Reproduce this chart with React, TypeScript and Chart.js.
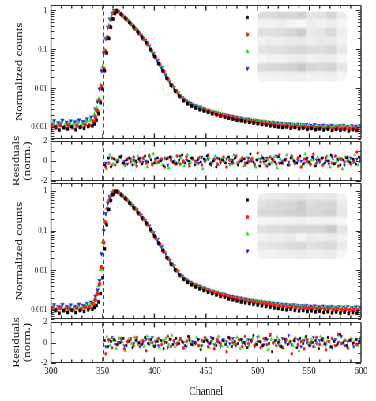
import React, { useEffect, useRef } from 'react';
import { Chart, registerables } from 'chart.js';
import { drawPoint } from 'chart.js/helpers';

Chart.register(...registerables);

// ---------------- data ----------------
const seriesNames = ['Series 1', 'Series 2', 'Series 3', 'Series 4'];
const seriesColors = ['#000000', '#ff1a1a', '#1ee61e', '#1a2cff'];
const seriesStyles = ['rect', 'circle', 'triangle', 'triangle'];
const seriesRotations = [0, 0, 0, 180];
const seriesOffsets = [0, 1, 2, 3];
const residOffsets = [0, 1, 2, 1];
const markerChannel = 351;

const xMajorTicks = [300, 350, 400, 450, 500, 550, 600];
const countTickValues = [0.001, 0.01, 0.1, 1];
const residTickValues = [-2, 0, 2];
const residMinorTicks = [-1, 1];

const countChannels = [
  300, 304, 308, 312, 316, 320, 324, 328, 332, 336, 340,
  342, 344, 346, 348, 350, 352, 354, 356, 358, 360, 362, 364,
  368, 372, 376, 380, 384, 388, 392, 396, 400, 404, 408, 412, 416, 420, 424, 428, 432, 436,
  440, 444, 448, 452, 456, 460, 464, 468, 472, 476, 480, 484, 488, 492, 496, 500, 504, 508,
  512, 516, 520, 524, 528, 532, 536, 540, 544, 548, 552, 556, 560, 564, 568, 572, 576, 580,
  584, 588, 592, 596,
];
const residFirstChannel = 352;
const residStep = 3;

// top panel
const p1Black = [
  0.00088, 0.00101, 0.00084, 0.00097, 0.0009, 0.00103, 0.00086, 0.00099, 0.00093, 0.00104, 0.00108,
  0.0012, 0.0015, 0.0022, 0.0042, 0.0095, 0.028, 0.08, 0.19, 0.37, 0.6, 0.84, 0.97,
  0.8, 0.63, 0.49, 0.375, 0.28, 0.205, 0.15, 0.1, 0.066, 0.043, 0.028, 0.018, 0.012, 0.0085, 0.0062, 0.0048,
  0.004, 0.0035, 0.0031, 0.0028, 0.0026, 0.0024, 0.0022, 0.0021, 0.0019, 0.0018, 0.0017, 0.0016, 0.0015,
  0.00145, 0.00138, 0.00132, 0.00127, 0.00122, 0.00117, 0.00113, 0.00108, 0.00105, 0.00101, 0.00098, 0.001,
  0.00094, 0.00097, 0.00091, 0.00094, 0.00088, 0.00092, 0.00086, 0.0009, 0.00084, 0.00088, 0.00082, 0.00087,
  0.00083, 0.00086, 0.0008, 0.00085, 0.00082,
];
const p1Red = [
  0.00109, 0.00096, 0.00112, 0.00098, 0.00111, 0.00097, 0.00108, 0.00102, 0.00115, 0.00112, 0.0014,
  0.0018, 0.0026, 0.0048, 0.011, 0.032, 0.087, 0.2, 0.38, 0.61, 0.85, 0.98, 0.94,
  0.74, 0.59, 0.45, 0.345, 0.26, 0.19, 0.14, 0.095, 0.063, 0.042, 0.027, 0.0175, 0.0118, 0.0084, 0.0062, 0.0049,
  0.0041, 0.0036, 0.0032, 0.0029, 0.0027, 0.0025, 0.0023, 0.0021, 0.002, 0.0019, 0.0018, 0.0017, 0.0016,
  0.00153, 0.00146, 0.0014, 0.00134, 0.00129, 0.00124, 0.0012, 0.00116, 0.00112, 0.0011, 0.00106, 0.00108,
  0.00102, 0.00104, 0.00099, 0.00101, 0.00096, 0.00099, 0.00094, 0.00097, 0.00092, 0.00096, 0.0009, 0.00094,
  0.00091, 0.00095, 0.00089, 0.00093, 0.0009,
];
const p1Green = [
  0.00126, 0.00114, 0.00131, 0.00117, 0.00128, 0.0012, 0.0013, 0.00122, 0.00141, 0.00148, 0.0021,
  0.0031, 0.0052, 0.012, 0.036, 0.095, 0.21, 0.4, 0.64, 0.87, 0.99, 0.97, 0.89,
  0.71, 0.56, 0.43, 0.33, 0.245, 0.18, 0.13, 0.088, 0.058, 0.039, 0.025, 0.0163, 0.0112, 0.0081, 0.0061, 0.0049,
  0.0042, 0.0037, 0.0034, 0.0031, 0.0028, 0.0026, 0.0024, 0.0023, 0.0021, 0.002, 0.0019, 0.0018, 0.00172,
  0.00165, 0.00158, 0.00152, 0.00146, 0.0014, 0.00136, 0.00131, 0.00128, 0.00124, 0.00121, 0.00118, 0.00115,
  0.00117, 0.00112, 0.00114, 0.00109, 0.00112, 0.00106, 0.00109, 0.00104, 0.00107, 0.00102, 0.00106, 0.00101,
  0.00104, 0.00099, 0.00103, 0.001, 0.00102,
];
const p1Blue = [
  0.00146, 0.00129, 0.00149, 0.00131, 0.00144, 0.00136, 0.00151, 0.00139, 0.00162, 0.0018, 0.0029,
  0.0046, 0.0095, 0.028, 0.08, 0.19, 0.37, 0.6, 0.84, 0.99, 0.98, 0.91, 0.83,
  0.67, 0.53, 0.41, 0.31, 0.23, 0.17, 0.12, 0.078, 0.052, 0.034, 0.022, 0.0145, 0.0103, 0.0074, 0.0057, 0.0047,
  0.0041, 0.0036, 0.0033, 0.003, 0.0027, 0.0025, 0.0024, 0.0022, 0.0021, 0.002, 0.0019, 0.0018, 0.0017,
  0.0016, 0.0016, 0.0015, 0.00148, 0.00142, 0.00138, 0.00133, 0.00131, 0.00127, 0.00124, 0.0012, 0.00122,
  0.00117, 0.00119, 0.00114, 0.00116, 0.00111, 0.00115, 0.00109, 0.00112, 0.00106, 0.0011, 0.00104, 0.00108,
  0.00111, 0.00103, 0.00107, 0.00105, 0.00109,
];

// lower panel
const p2Black = [
  0.00085, 0.00098, 0.00083, 0.00096, 0.00087, 0.001, 0.00086, 0.00097, 0.00092, 0.00102, 0.00105,
  0.00115, 0.0013, 0.0016, 0.0026, 0.0065, 0.035, 0.14, 0.34, 0.58, 0.81, 0.95, 0.97,
  0.8, 0.64, 0.5, 0.38, 0.285, 0.21, 0.155, 0.108, 0.073, 0.049, 0.032, 0.021, 0.0145, 0.0103, 0.0076, 0.006,
  0.005, 0.0043, 0.0038, 0.0034, 0.0031, 0.0028, 0.0026, 0.0024, 0.0022, 0.0021, 0.0019, 0.0018, 0.0017,
  0.0016, 0.00152, 0.00145, 0.00139, 0.00133, 0.00127, 0.00122, 0.00117, 0.00113, 0.00109, 0.00105, 0.00102,
  0.00104, 0.00098, 0.00095, 0.00097, 0.00092, 0.00095, 0.0009, 0.00093, 0.00087, 0.0009, 0.00085, 0.00089,
  0.00084, 0.00088, 0.00082, 0.00086, 0.00083,
];
const p2Red = [
  0.00111, 0.00099, 0.00113, 0.001, 0.00109, 0.00098, 0.00112, 0.00104, 0.00117, 0.00116, 0.0014,
  0.0018, 0.0026, 0.0045, 0.012, 0.05, 0.16, 0.35, 0.58, 0.8, 0.95, 0.99, 0.94,
  0.76, 0.61, 0.47, 0.36, 0.27, 0.2, 0.145, 0.1, 0.068, 0.046, 0.03, 0.02, 0.014, 0.01, 0.0075, 0.006,
  0.0051, 0.0045, 0.004, 0.0036, 0.0033, 0.003, 0.0028, 0.0026, 0.0024, 0.0023, 0.0021, 0.002, 0.0019,
  0.0018, 0.00172, 0.00165, 0.00158, 0.00151, 0.00146, 0.0014, 0.00135, 0.00131, 0.00127, 0.00123, 0.0012,
  0.00122, 0.00116, 0.00113, 0.00115, 0.0011, 0.00112, 0.00107, 0.00109, 0.00104, 0.00107, 0.00102, 0.00105,
  0.001, 0.00103, 0.00098, 0.00101, 0.00099,
];
const p2Green = [
  0.0012, 0.00108, 0.00123, 0.0011, 0.00121, 0.00109, 0.00122, 0.00115, 0.0013, 0.00136, 0.0018,
  0.0026, 0.0041, 0.0105, 0.052, 0.17, 0.37, 0.6, 0.81, 0.95, 0.99, 0.96, 0.89,
  0.72, 0.58, 0.45, 0.35, 0.26, 0.19, 0.14, 0.096, 0.065, 0.044, 0.029, 0.0195, 0.0136, 0.0098, 0.0074, 0.006,
  0.0051, 0.0045, 0.0041, 0.0037, 0.0034, 0.0031, 0.0029, 0.0027, 0.0025, 0.0024, 0.0022, 0.0021, 0.002,
  0.0019, 0.00182, 0.00174, 0.00167, 0.0016, 0.00154, 0.00149, 0.00145, 0.0014, 0.00136, 0.00133, 0.00129,
  0.00131, 0.00125, 0.00122, 0.00124, 0.00119, 0.00121, 0.00116, 0.00118, 0.00113, 0.00116, 0.00111, 0.00114,
  0.0011, 0.00113, 0.00108, 0.00111, 0.00109,
];
const p2Blue = [
  0.00135, 0.0012, 0.00137, 0.00122, 0.00134, 0.00123, 0.00139, 0.0013, 0.00146, 0.00156, 0.0022,
  0.0032, 0.0055, 0.026, 0.1, 0.27, 0.5, 0.72, 0.9, 0.99, 0.99, 0.93, 0.85,
  0.69, 0.55, 0.43, 0.33, 0.245, 0.18, 0.13, 0.088, 0.06, 0.04, 0.027, 0.018, 0.0128, 0.0093, 0.0071, 0.0058,
  0.005, 0.0044, 0.004, 0.0036, 0.0033, 0.003, 0.0028, 0.0026, 0.0025, 0.0023, 0.0022, 0.0021, 0.002,
  0.0019, 0.0018, 0.00175, 0.00168, 0.00163, 0.00157, 0.00153, 0.00148, 0.00145, 0.0014, 0.00138, 0.00133,
  0.00135, 0.0013, 0.00127, 0.00129, 0.00124, 0.00126, 0.00121, 0.00124, 0.00118, 0.00122, 0.00116, 0.0012,
  0.00117, 0.00121, 0.00115, 0.00119, 0.00117,
];

// residuals, upper
const r1Black = [
  -0.4, 0.3, -0.6, 0.2, -0.1, 0.4, -0.2, 0.1, 0.3, -0.4, 0.0, 0.2, -0.3, 0.5, -0.1, 0.1, -0.2, 0.3, 0.0, -0.5,
  0.2, 0.4, -0.1, -0.3, 0.1, 0.6, -0.2, 0.0, 0.3, -0.4, 0.1, -0.1, 0.2, 0.5, -0.3, 0.0, -0.6, 0.2, 0.1, -0.2,
  0.4, -0.1, 0.3, -0.4, 0.0, 0.2, -0.2, 0.7, -0.1, 0.1, -0.5, 0.3, 0.0, -0.3, 0.2, -0.1, 0.4, -0.2, 0.1, -0.4,
  0.3, 0.0, -0.2, 0.5, -0.3, 0.2, -0.1, 0.4, -0.5, 0.1, 0.3, -0.2, 0.0, 0.6, -0.3, 0.2, -0.4, 0.1, 0.3, -0.1,
  0.2, -0.3, 0.4,
];
const r1Red = [
  -0.6, -0.2, 0.3, -0.4, 0.1, 0.5, -0.3, 0.2, -0.1, 0.4, -0.5, 0.0, 0.3, -0.2, 0.6, -0.4, 0.1, -0.1, 0.2, -0.6,
  0.3, 0.1, -0.2, 0.5, -0.3, 0.0, 0.4, -0.5, 0.2, -0.1, 0.3, -0.4, 0.1, 0.6, -0.2, 0.2, -0.3, 0.0, 0.4, -0.6,
  0.1, -0.2, 0.5, -0.1, 0.3, -0.4, 0.0, 0.2, -0.3, 0.8, -0.1, 0.2, -0.5, 0.4, 0.0, -0.3, 0.6, -0.2, 0.1, -0.4,
  0.5, -0.1, 0.3, -0.6, 0.2, 0.0, -0.3, 0.7, -0.2, 0.1, -0.4, 0.3, 0.0, -0.2, 0.5, -0.5, 0.2, -0.1, 0.4, -0.3,
  0.1, 0.9, 0.3,
];
const r1Green = [
  -0.8, 0.6, -0.3, 0.1, 0.4, -0.2, -0.5, 0.3, 0.0, -0.3, 0.5, -0.1, 0.2, -0.6, 0.3, 0.7, -0.2, 0.1, -0.4, 0.2,
  -0.7, 0.4, 0.0, -0.2, 0.3, -0.5, 0.6, -0.1, 0.2, -0.3, 0.4, -0.8, 0.1, 0.3, -0.2, 0.5, -0.4, 0.2, -0.1, 0.3,
  -0.3, 0.6, -0.2, 0.1, -0.5, 0.4, -0.1, 0.3, -0.6, 0.2, 0.5, -0.3, 0.1, -0.2, 0.4, -0.7, 0.2, 0.0, 0.6, -0.4,
  0.2, -0.1, 0.3, -0.5, 0.7, -0.2, 0.1, -0.4, 0.4, 0.0, -0.3, 0.5, -0.6, 0.2, -0.1, 0.3, -0.8, 0.4, 0.1, -0.2,
  0.6, -0.4, 0.2,
];
const r1Blue = [
  -0.2, 0.3, -0.4, 0.1, -0.1, 0.4, 0.0, -0.3, 0.2, 0.1, -0.2, 0.3, -0.1, 0.0, 0.4, -0.3, 0.2, -0.1, 0.1, 0.3,
  -0.4, 0.2, 0.0, -0.2, 0.5, -0.1, 0.1, -0.3, 0.3, 0.0, -0.2, 0.4, -0.1, 0.2, -0.4, 0.1, 0.3, -0.2, 0.0, 0.2,
  -0.3, 0.1, 0.4, -0.1, 0.2, -0.2, 0.3, 0.0, -0.4, 0.1, 0.2, -0.1, 0.3, -0.3, 0.1, 0.5, -0.2, 0.0, 0.2, -0.1,
  0.4, -0.3, 0.1, 0.0, -0.2, 0.3, -0.4, 0.2, 0.1, -0.1, 0.3, 0.0, -0.3, 0.4, -0.2, 0.1, 0.2, -0.4, 0.0, 0.3,
  -0.1, 0.2, 0.0,
];

// residuals, lower
const r2Black = [
  0.2, -0.4, 0.1, 0.3, -0.2, 0.0, 0.4, -0.3, 0.1, -0.5, 0.2, 0.0, -0.2, 0.5, -0.1, 0.3, -0.4, 0.1, 0.2, -0.6,
  0.0, 0.3, -0.2, 0.4, -0.1, 0.1, -0.3, 0.6, -0.2, 0.0, 0.3, -0.7, 0.1, 0.2, -0.1, 0.4, -0.3, 0.0, 0.2, -0.2,
  0.5, -0.4, 0.1, -0.1, 0.3, 0.0, -0.5, 0.2, 0.7, -0.2, 0.1, -0.3, 0.4, -0.1, -0.9, 0.2, 0.0, -0.4, 0.3, -0.2,
  0.1, 0.2, -0.5, 0.4, -0.1, 0.6, -0.3, 0.0, 0.2, -0.6, 0.3, -0.1, 0.5, -0.4, 0.1, -0.2, 0.8, 0.0, -0.3, 0.2,
  -0.1, 0.3, 0.1,
];
const r2Red = [
  -1.1, 0.3, -0.5, 0.2, -0.2, 0.4, -0.6, 0.1, 0.3, -0.3, 0.5, -0.1, 0.2, -0.8, 0.3, 0.0, -0.3, 0.4, -0.2, 0.1,
  0.6, -0.4, 0.2, -0.1, 0.3, -0.5, 0.1, 0.4, -0.2, 0.0, -0.3, 0.2, 0.5, -0.4, 0.1, -0.6, 0.3, -0.1, 0.2, -0.9,
  0.4, 0.0, -0.2, 0.3, -0.4, 0.6, -0.1, 0.2, -0.3, 0.1, -0.5, 0.4, -0.2, 0.7, 0.0, -0.3, 0.2, -0.5, 0.3, -0.1,
  -1.1, 0.4, -0.2, 0.1, -0.6, 0.3, 0.0, -0.4, 0.5, -0.2, 0.2, -0.7, 0.1, 0.4, -0.3, 0.8, -0.1, 0.2, -0.5, 0.3,
  0.0, -0.2, 0.4,
];
const r2Green = [
  0.6, -0.3, 0.2, -0.6, 0.4, 0.1, -0.8, 0.3, -0.1, 0.5, -0.2, 0.2, -0.4, 0.6, 0.0, -0.3, 0.3, -0.5, 0.1, 0.4,
  -0.2, 0.7, -0.4, 0.1, 0.3, -0.6, 0.2, 0.0, -0.2, 0.5, -0.3, 0.1, 0.4, -0.5, 0.2, -0.1, 0.6, -0.3, 0.1, -0.4,
  0.3, -0.2, 0.5, -0.6, 0.1, 0.2, -0.3, 0.4, -0.1, 0.6, -0.4, 0.2, -0.7, 0.3, 0.0, 0.5, -0.2, -0.5, 0.3, 0.1,
  -0.3, 0.4, -0.8, 0.2, 0.5, -0.1, 0.3, -0.4, 0.0, 0.6, -0.2, 0.1, -0.5, 0.3, -0.3, 0.7, -0.1, 0.2, -0.6, 0.4,
  0.0, -0.3, 0.5,
];
const r2Blue = [
  -0.4, 0.2, 0.5, -0.2, 0.0, 0.3, -0.3, 0.1, 0.4, -0.1, 0.2, -0.4, 0.0, 0.3, -0.2, 0.5, 0.1, -0.3, 0.2, 0.0,
  -0.5, 0.3, 0.1, -0.2, 0.4, 0.0, -0.4, 0.2, 0.1, -0.1, 0.3, -0.3, 0.2, 0.0, 0.5, -0.2, 0.1, -0.4, 0.3, 0.1,
  -0.1, 0.4, -0.3, 0.2, 0.0, -0.2, 0.3, 0.1, -0.4, 0.5, 0.0, -0.2, 0.3, 0.8, -0.1, 0.2, -0.3, 0.4, 0.0, 0.7,
  -0.2, 0.1, 0.3, -0.4, 0.2, 0.0, -0.3, 0.5, -0.1, 0.2, 0.4, -0.2, 0.1, -0.5, 0.3, 0.0, 0.6, -0.3, 0.1, 0.2,
  -0.4, 0.3, 0.1,
];

// pixelated (unreadable) legend label area, grey levels
const legendMosaic1 = [
  [0xdc, 0xdc, 0xd6, 0xd6, 0xd0, 0xe6, 0xe2, 0xd6, 0xea],
  [0xf2, 0xf2, 0xee, 0xf4, 0xf8, 0xee, 0xf2, 0xee, 0xf6],
  [0xe0, 0xe0, 0xdc, 0xd6, 0xcc, 0xea, 0xe4, 0xd8, 0xee],
  [0xf2, 0xee, 0xee, 0xea, 0xe8, 0xee, 0xea, 0xea, 0xf2],
  [0xe4, 0xe0, 0xe0, 0xda, 0xd6, 0xdc, 0xdc, 0xd6, 0xe8],
  [0xf6, 0xf2, 0xf2, 0xee, 0xea, 0xf2, 0xee, 0xee, 0xf6],
  [0xdc, 0xd8, 0xd6, 0xd2, 0xc8, 0xd6, 0xd8, 0xd2, 0xe4],
  [0xf2, 0xf2, 0xf2, 0xee, 0xee, 0xf2, 0xf2, 0xee, 0xf6],
];
const legendMosaic2 = [
  [0xee, 0xea, 0xea, 0xe6, 0xe4, 0xea, 0xea, 0xe6, 0xf2],
  [0xe0, 0xdc, 0xd8, 0xd6, 0xcc, 0xdc, 0xd8, 0xd6, 0xea],
  [0xd8, 0xd8, 0xd6, 0xd2, 0xce, 0xd8, 0xd6, 0xd2, 0xe6],
  [0xf6, 0xf6, 0xf2, 0xf2, 0xee, 0xf2, 0xf2, 0xf2, 0xf8],
  [0xe0, 0xdc, 0xdc, 0xd6, 0xd6, 0xd8, 0xd6, 0xc8, 0xe4],
  [0xf2, 0xee, 0xee, 0xea, 0xf6, 0xea, 0xee, 0xea, 0xf2],
  [0xe6, 0xe4, 0xe0, 0xdc, 0xd8, 0xe0, 0xdc, 0xd8, 0xea],
  [0xf2, 0xf2, 0xee, 0xee, 0xea, 0xee, 0xee, 0xea, 0xf6],
];

// ---------------- layout / style ----------------
const PAGE_W = 376;
const PAGE_H = 401;
const CANVAS_W = 476;
const SX = PAGE_W / CANVAS_W; // the figure is horizontally compressed
const PLOT_LEFT = 51 / SX;
const PLOT_RIGHT = 361 / SX;
const SERIF = "'Liberation Serif', 'Times New Roman', serif";
const INK = '#141414';
const FRAME = '#2e2e2e';

const panels = [
  { kind: 'counts', top: 3, bottom: 139, min: 0.000495, max: 1.42, series: [p1Black, p1Red, p1Green, p1Blue],
    legend: { markerTop: 13, boxTop: 7, boxHeight: 70, tones: legendMosaic1 } },
  { kind: 'resid', top: 141, bottom: 181, min: -2, max: 2, series: [r1Black, r1Red, r1Green, r1Blue] },
  { kind: 'counts', top: 183, bottom: 319, min: 0.000593, max: 1.59, series: [p2Black, p2Red, p2Green, p2Blue],
    legend: { markerTop: 17, boxTop: 10, boxHeight: 66, tones: legendMosaic2 } },
  { kind: 'resid', top: 322, bottom: 363, min: -2, max: 2, series: [r2Black, r2Red, r2Green, r2Blue], showX: true },
];

const xMinorTicks: number[] = [];
for (let v = 310; v < 600; v += 10) if (v % 50 !== 0) xMinorTicks.push(v);

function logMinor(min: number, max: number) {
  const out: number[] = [];
  for (let d = -4; d <= 0; d++) {
    for (let k = 2; k <= 9; k++) {
      const v = k * Math.pow(10, d);
      if (v > min && v < max) out.push(v);
    }
  }
  return out;
}

const framePlugin = {
  id: 'frame',
  beforeDatasetsDraw(chart: any) {
    const { ctx, chartArea: a, scales } = chart;
    const mx = scales.x.getPixelForValue(markerChannel);
    ctx.save();
    ctx.strokeStyle = '#444';
    ctx.lineWidth = 1.1 / SX;
    ctx.setLineDash([4, 3]);
    ctx.beginPath();
    ctx.moveTo(mx, a.top);
    ctx.lineTo(mx, a.bottom);
    ctx.stroke();
    ctx.restore();
  },
  afterDatasetsDraw(chart: any, _args: any, opts: any) {
    const { ctx, chartArea: a, scales } = chart;
    const xs = scales.x;
    const ys = scales.y;
    const top = Math.round(a.top) + 0.5;
    const bottom = Math.round(a.bottom) - 0.5;
    ctx.save();
    ctx.strokeStyle = FRAME;
    ctx.setLineDash([]);
    // vertical strokes
    ctx.lineWidth = 1.15 / SX;
    ctx.beginPath();
    const xt = (v: number, len: number) => {
      const px = xs.getPixelForValue(v);
      ctx.moveTo(px, top);
      ctx.lineTo(px, top + len);
      ctx.moveTo(px, bottom);
      ctx.lineTo(px, bottom - len);
    };
    xMajorTicks.forEach((v) => xt(v, 5));
    xMinorTicks.forEach((v) => xt(v, 3));
    ctx.moveTo(a.left, top);
    ctx.lineTo(a.left, bottom);
    ctx.moveTo(a.right, top);
    ctx.lineTo(a.right, bottom);
    ctx.stroke();
    // horizontal strokes
    ctx.lineWidth = 1.15;
    ctx.beginPath();
    const yt = (v: number, len: number) => {
      const py = Math.round(ys.getPixelForValue(v)) + 0.5;
      ctx.moveTo(a.left, py);
      ctx.lineTo(a.left + len, py);
      ctx.moveTo(a.right, py);
      ctx.lineTo(a.right - len, py);
    };
    opts.yMajor.forEach((v: number) => yt(v, 5 / SX));
    opts.yMinor.forEach((v: number) => yt(v, 3 / SX));
    ctx.moveTo(a.left, top);
    ctx.lineTo(a.right, top);
    ctx.moveTo(a.left, bottom);
    ctx.lineTo(a.right, bottom);
    ctx.stroke();

    if (opts.legend) {
      const lg = opts.legend;
      // blurred label area
      const bx = 257 / SX;
      const bw = 90 / SX;
      const by = a.top + lg.boxTop;
      const cols = lg.tones[0].length;
      const rows = lg.tones.length;
      const cw = bw / cols;
      const ch = lg.boxHeight / rows;
      ctx.save();
      ctx.beginPath();
      if (ctx.roundRect) ctx.roundRect(bx, by, bw, lg.boxHeight, 7);
      else ctx.rect(bx, by, bw, lg.boxHeight);
      ctx.clip();
      ctx.filter = 'blur(1.2px)';
      lg.tones.forEach((row: number[], r: number) =>
        row.forEach((t: number, c: number) => {
          ctx.fillStyle = `rgb(${t},${t},${t})`;
          ctx.fillRect(bx + c * cw - 1, by + r * ch - 1, cw + 2, ch + 2);
        })
      );
      ctx.restore();
      // markers
      const mxp = 247.5 / SX;
      seriesColors.forEach((col, s) => {
        ctx.fillStyle = col;
        ctx.strokeStyle = col;
        ctx.lineWidth = 0.6;
        drawPoint(ctx, { pointStyle: seriesStyles[s], rotation: seriesRotations[s], radius: s >= 2 ? 2.3 : 1.8, borderWidth: 0.6 } as any,
          mxp, a.top + lg.markerTop + 17 * s);
      });
    }
    ctx.restore();
  },
};

function buildConfig(p: any): any {
  const isCounts = p.kind === 'counts';
  const datasets = p.series.map((vals: number[], s: number) => ({
    label: seriesNames[s],
    data: vals.map((v, i) => ({
      x: isCounts
        ? countChannels[i] + seriesOffsets[s]
        : residFirstChannel + residStep * i + residOffsets[s],
      y: v,
    })),
    showLine: false,
    pointStyle: seriesStyles[s],
    pointRotation: seriesRotations[s],
    pointRadius: isCounts ? (s >= 2 ? 2.6 : 2.1) : (s >= 2 ? 1.9 : 1.5),
    pointBackgroundColor: seriesColors[s],
    pointBorderColor: seriesColors[s],
    pointBorderWidth: 0.5,
  }));

  const yTicksValues = isCounts ? countTickValues : residTickValues;
  const yMinor = isCounts ? logMinor(p.min, p.max) : residMinorTicks;
  const xBoxHeight = PAGE_H - p.bottom;

  return {
    type: 'scatter',
    data: { datasets },
    plugins: [framePlugin],
    options: {
      responsive: false,
      animation: false,
      devicePixelRatio: 1,
      events: [],
      layout: {
        padding: {
          top: p.top,
          bottom: 0,
          left: 0,
          right: CANVAS_W - PLOT_RIGHT,
        },
      },
      plugins: {
        legend: { display: false },
        tooltip: { enabled: false },
        frame: { yMajor: yTicksValues, yMinor, legend: p.legend || null },
      },
      scales: {
        x: {
          type: 'linear',
          min: 300,
          max: 600,
          display: true,
          afterBuildTicks: (s: any) => { s.ticks = xMajorTicks.map((v) => ({ value: v })); },
          afterFit: (s: any) => { s.height = xBoxHeight; s.paddingLeft = 0; s.paddingRight = 0; },
          ticks: {
            display: !!p.showX,
            font: { size: 11, family: SERIF },
            color: INK,
            padding: 2,
            maxRotation: 0,
            autoSkip: false,
          },
          grid: { display: false, drawTicks: false },
          border: { display: false },
          title: {
            display: !!p.showX,
            text: 'Channel',
            color: INK,
            font: { size: 13, family: SERIF, lineHeight: 1.08 },
            padding: { top: 0, bottom: 2 },
          },
        },
        y: {
          type: isCounts ? 'logarithmic' : 'linear',
          min: p.min,
          max: p.max,
          afterBuildTicks: (s: any) => { s.ticks = yTicksValues.map((v) => ({ value: v })); },
          afterFit: (s: any) => { s.width = PLOT_LEFT; s.paddingTop = 0; s.paddingBottom = 0; },
          ticks: {
            callback: (v: any) => String(v),
            font: { size: 9, family: SERIF },
            color: INK,
            padding: 5,
            autoSkip: false,
          },
          grid: { display: false, drawTicks: false },
          border: { display: false },
          title: {
            display: true,
            text: isCounts ? 'Normalized counts' : ['Residuals', '(norm.)'],
            color: INK,
            font: { size: 13, family: SERIF, lineHeight: 1.08 },
            padding: { top: isCounts ? 18 : 14, bottom: 0 },
          },
        },
      },
    },
  };
}

export default function App() {
  const r0 = useRef<HTMLCanvasElement>(null);
  const r1 = useRef<HTMLCanvasElement>(null);
  const r2 = useRef<HTMLCanvasElement>(null);
  const r3 = useRef<HTMLCanvasElement>(null);
  const refs = [r0, r1, r2, r3];

  useEffect(() => {
    const charts = panels.map((p, k) => new Chart(refs[k].current as HTMLCanvasElement, buildConfig(p)));
    return () => charts.forEach((c) => c.destroy());
  }, []);

  return (
    <div style={{ position: 'fixed', left: 0, top: 0, width: PAGE_W, height: PAGE_H, overflow: 'hidden', background: '#fff' }}>
      <div
        style={{
          position: 'absolute',
          left: 0,
          top: 0,
          width: CANVAS_W,
          height: PAGE_H,
          transform: `scaleX(${SX})`,
          transformOrigin: '0 0',
        }}
      >
        {panels.map((_, k) => (
          <canvas
            key={k}
            ref={refs[k]}
            width={CANVAS_W}
            height={PAGE_H}
            style={{ position: 'absolute', left: 0, top: 0 }}
          />
        ))}
      </div>
    </div>
  );
}
